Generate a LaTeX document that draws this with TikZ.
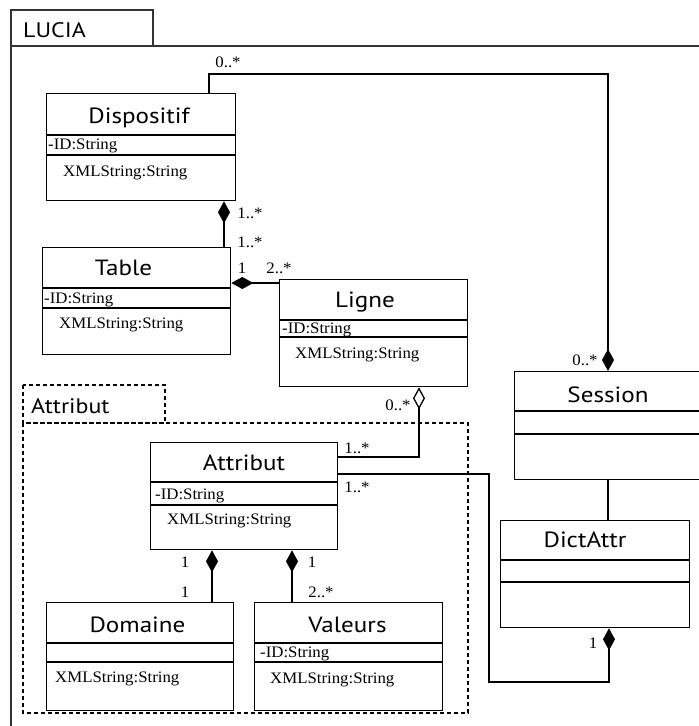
\documentclass[tikz,border=0pt]{standalone}
\usepackage{fontspec}
\setmainfont[FakeStretch=1.05]{Liberation Serif}
\newfontfamily\clsfont[FakeStretch=1.14]{PT Sans}
\usetikzlibrary{arrows.meta}
\tikzset{
 cls/.style={draw, line width=1.3pt, inner sep=0, anchor=north west},
 clsname/.style={font=\clsfont\fontsize{22}{24}\selectfont, inner sep=0, anchor=base},
 attrtxt/.style={font=\fontsize{16}{18}\selectfont, inner sep=0, anchor=base west},
 mult/.style={font=\fontsize{16}{18}\selectfont, inner sep=0},
 conn/.style={line width=1.3pt},
 sep/.style={line width=1.3pt},
 comp/.style={conn, -{Diamond[length=22pt,width=12pt]}},
 agg/.style={conn, -{Diamond[open,length=22pt,width=12pt,fill=white]}},
 frameline/.style={line width=1.5pt, draw=black!80},
 pkg/.style={line width=1.2pt, dash pattern=on 4pt off 3pt},
 pkgname/.style={font=\clsfont\fontsize{21}{23}\selectfont, inner sep=0, anchor=base west},
}
\begin{document}
\begin{tikzpicture}[x=1pt,y=-1pt]
\useasboundingbox (0,0) rectangle (699,726);
\clip (0,0) rectangle (699,726);
\fill[white] (0,0) rectangle (699,726);
% outer package LUCIA
\draw[frameline] (11,10) rectangle (153,46);
\draw[frameline] (11,46) rectangle (760,780);
\node[pkgname] (lucia) at (23,37) {LUCIA};
% package Attribut
\draw[pkg] (23,385) rectangle (165,423);
\draw[pkg] (23,423) rectangle (468,713);
\node[pkgname] (pattr) at (31,413) {Attribut};

% Dispositif
\node[cls, minimum width=189pt, minimum height=107pt] (disp) at (46,93) {};
\draw[sep] (46,135) -- (235,135); \draw[sep] (46,155) -- (235,155);
\node[clsname] (dispn) at (139,123) {Dispositif};
\node[attrtxt] (dispa) at (48,149) {-ID:String};
\node[attrtxt] (dispb) at (63,176) {XMLString:String};

% Table
\node[cls, minimum width=188pt, minimum height=107pt] (tab) at (42,247) {};
\draw[sep] (42,288) -- (230,288); \draw[sep] (42,308) -- (230,308);
\node[clsname] (tabn) at (123.5,275) {Table};
\node[attrtxt] (taba) at (44,303) {-ID:String};
\node[attrtxt] (tabb) at (59,328) {XMLString:String};

% Ligne
\node[cls, minimum width=188pt, minimum height=107pt] (lig) at (279,279) {};
\draw[sep] (279,320) -- (467,320); \draw[sep] (279,337) -- (467,337);
\node[clsname] (lign) at (365,307) {Ligne};
\node[attrtxt] (liga) at (282,333) {-ID:String};
\node[attrtxt] (ligb) at (295,358) {XMLString:String};

% Session
\node[cls, minimum width=200pt, minimum height=108pt] (sess) at (514,371) {};
\draw[sep] (514,411) -- (714,411); \draw[sep] (514,434) -- (714,434);
\node[clsname] (sessn) at (608,402) {Session};

% DictAttr
\node[cls, minimum width=189pt, minimum height=107pt] (dict) at (500,520) {};
\draw[sep] (500,560) -- (689,560); \draw[sep] (500,582) -- (689,582);
\node[clsname] (dictn) at (585,547) {DictAttr};

% Attribut
\node[cls, minimum width=187pt, minimum height=107pt] (attr) at (150,442) {};
\draw[sep] (150,482) -- (337,482); \draw[sep] (150,505) -- (337,505);
\node[clsname] (attrn) at (244,470) {Attribut};
\node[attrtxt] (attra) at (155,499) {-ID:String};
\node[attrtxt] (attrb) at (167,524) {XMLString:String};

% Domaine
\node[cls, minimum width=187pt, minimum height=108pt] (dom) at (46,602) {};
\draw[sep] (46,643) -- (233,643); \draw[sep] (46,662) -- (233,662);
\node[clsname] (domn) at (137.5,632) {Domaine};
\node[attrtxt] (domb) at (55,682) {XMLString:String};

% Valeurs
\node[cls, minimum width=188pt, minimum height=108pt] (val) at (254,602) {};
\draw[sep] (254,643) -- (442,643); \draw[sep] (254,662) -- (442,662);
\node[clsname] (valn) at (347.5,632) {Valeurs};
\node[attrtxt] (vala) at (260,657) {-ID:String};
\node[attrtxt] (valb) at (270,683) {XMLString:String};

% helper coordinates
\coordinate (xds) at (209,0);
\coordinate (xss) at (608,0);
\coordinate (xdt) at (224,0);
\coordinate (ytl) at (0,283);
\coordinate (xla) at (419,0);
\coordinate (yla) at (0,457);
\coordinate (yad) at (0,474);
\coordinate (kd) at (489,682);
\coordinate (xkd) at (609,0);
\coordinate (xdo) at (212,0);
\coordinate (xva) at (292,0);

% connectors
\draw[comp] (disp.north -| xds) -- ++(0,-19) -| (sess.north -| xss);
\draw[comp] (tab.north -| xdt) -- (disp.south -| xdt);
\draw[comp] (lig.west |- ytl) -- (tab.east |- ytl);
\draw[agg] (attr.east |- yla) -| (lig.south -| xla);
\draw[conn] (sess.south -| xss) -- (dict.north -| xss);
\draw[comp] (attr.east |- yad) -| (kd) -| (dict.south -| xkd);
\draw[comp] (dom.north -| xdo) -- (attr.south -| xdo);
\draw[comp] (val.north -| xva) -- (attr.south -| xva);

% multiplicities
\node[mult] (m1) at (228,62) {0..*};
\node[mult] (m2) at (250,213) {1..*};
\node[mult] (m3) at (250,242) {1..*};
\node[mult] (m4) at (242,268) {1};
\node[mult] (m5) at (279,268) {2..*};
\node[mult] (m6) at (585,360) {0..*};
\node[mult] (m7) at (398,405) {0..*};
\node[mult] (m8) at (357,448) {1..*};
\node[mult] (m9) at (357,487) {1..*};
\node[mult] (m10) at (185,562) {1};
\node[mult] (m11) at (185,592) {1};
\node[mult] (m12) at (312,562) {1};
\node[mult] (m13) at (321,592) {2..*};
\node[mult] (m14) at (593,643) {1};
\end{tikzpicture}
\end{document}
